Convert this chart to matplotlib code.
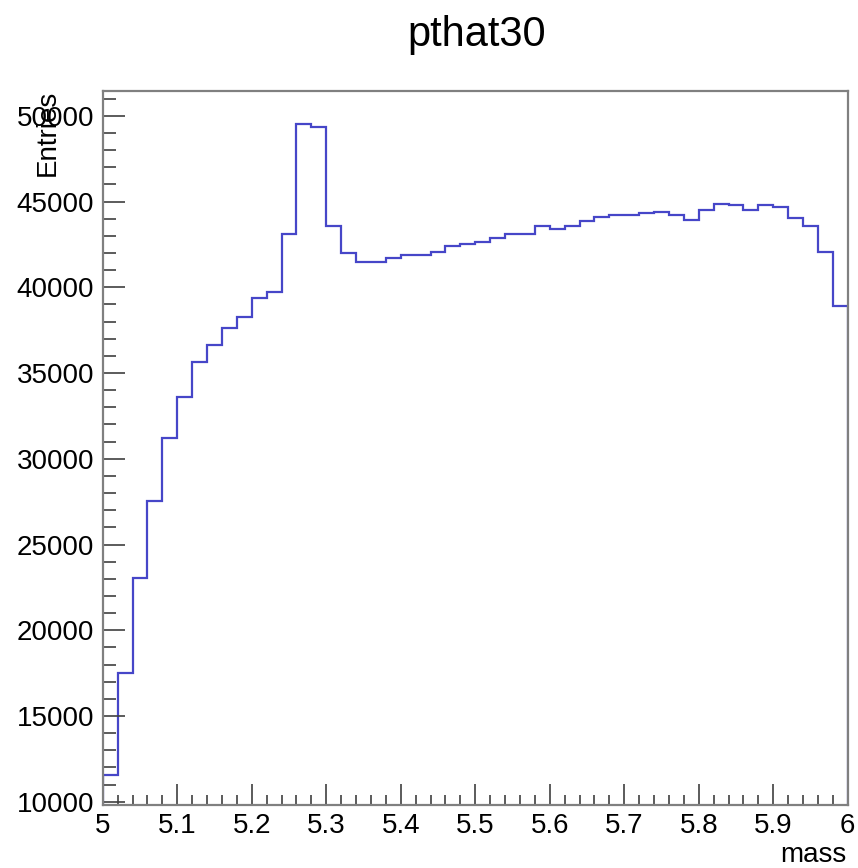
import numpy as np
import matplotlib
matplotlib.use("Agg")
import matplotlib.pyplot as plt
from matplotlib.ticker import MultipleLocator

plt.rcParams["font.family"] = ["Liberation Sans", "DejaVu Sans"]

# histogram data (50 bins of mass from 5 to 6)
MASS_MIN = 5.0
MASS_MAX = 6.0
N_BINS = 50
entries = [
    11550, 17490, 23070, 27560, 31200, 33590, 35650, 36620, 37610, 38290,
    39370, 39720, 43120, 49520, 49340, 43550, 41990, 41500, 41500, 41700,
    41890, 41890, 42080, 42430, 42530, 42670, 42870, 43120, 43120, 43600,
    43410, 43550, 43890, 44090, 44190, 44190, 44320, 44390, 44190, 43940,
    44520, 44860, 44810, 44520, 44810, 44670, 44070, 43550, 42060, 38920,
]
TITLE = "pthat30"
X_LABEL = "mass"
Y_LABEL = "Entries"

LINE_COLOR = "#4646c8"
FRAME_COLOR = "#808080"

fig = plt.figure(figsize=(8.58, 8.68), dpi=100)
ax = fig.add_axes([0.1197, 0.0726, 0.8683, 0.822])

edges = np.linspace(MASS_MIN, MASS_MAX, N_BINS + 1)
ax.stairs(entries, edges, color=LINE_COLOR, linewidth=1.6)

ax.set_xlim(MASS_MIN, MASS_MAX)
ax.set_ylim(9810, 51420)

ax.xaxis.set_major_locator(MultipleLocator(0.1))
ax.xaxis.set_minor_locator(MultipleLocator(0.02))
ax.yaxis.set_major_locator(MultipleLocator(5000))
ax.yaxis.set_minor_locator(MultipleLocator(1000))
ax.xaxis.set_major_formatter(plt.FuncFormatter(lambda v, p: f"{v:g}"))

ax.tick_params(which="both", direction="in", top=False, right=False,
               color="#404040", labelsize=20, pad=6)
ax.tick_params(axis="x", which="major", length=15, width=1.2)
ax.tick_params(axis="x", which="minor", length=7, width=1.2)
ax.tick_params(axis="y", which="major", length=16, width=1.2)
ax.tick_params(axis="y", which="minor", length=9, width=1.2)

for s in ax.spines.values():
    s.set_color(FRAME_COLOR)
    s.set_linewidth(1.6)

fig.text(477 / 858, 1 - 35 / 868, TITLE, ha="center", va="center", fontsize=30)
fig.text(48 / 858, 1 - 90 / 868, Y_LABEL, rotation=90, ha="center", va="top",
         fontsize=20)
fig.text(846 / 858, 1 - 862 / 868, X_LABEL, ha="right", va="baseline",
         fontsize=20)

fig.savefig("out.png", dpi=100)
